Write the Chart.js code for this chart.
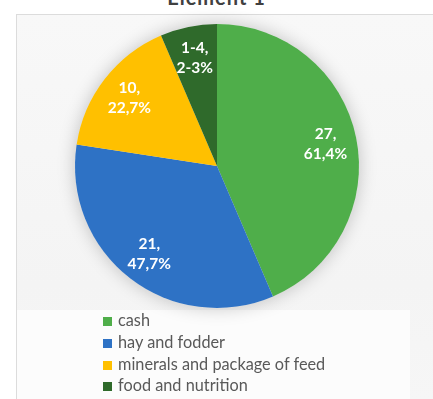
<!DOCTYPE html>
<html>
<head>
<meta charset="utf-8">
<script src="https://cdn.jsdelivr.net/npm/chart.js@4.4.1/dist/chart.umd.min.js"></script>
<style>
  html, body { margin: 0; padding: 0; background: #ffffff; }
  #wrap { position: relative; width: 433px; height: 399px; overflow: hidden; font-family: Lato, "Open Sans", sans-serif; }
  #panel { position: absolute; left: 16px; top: 14px; right: -2px; bottom: -2px;
           background: linear-gradient(180deg, #f8f8f8 0%, #f4f4f4 70%, #f6f6f6 100%);
           border-top: 1px solid #dcdcdc; border-left: 1px solid #dcdcdc; }
  #legendBox { position: absolute; left: 17px; top: 310px; width: 393px; bottom: 0; background: #fcfcfc; }
  #title { position: absolute; left: 0; width: 433px; top: -15px; text-align: center;
           font: bold 20px Lato, sans-serif; color: #404040; letter-spacing: 1px; }
  #chart { position: absolute; left: 0; top: 0; }
  #legend { position: absolute; left: 103px; top: 309px; margin: 0; padding: 0; list-style: none; }
  #legend li { height: 21.8px; line-height: 21.8px; font-size: 16.3px; color: #595959; white-space: nowrap; }
  #legend span { display: inline-block; width: 9px; height: 9px; margin-right: 6px; vertical-align: 0px; }
</style>
</head>
<body>
<div id="wrap">
  <div id="title">Element 1</div>
  <div id="panel"></div>
  <div id="legendBox"></div>
  <canvas id="chart" width="433" height="399"></canvas>
  <ul id="legend"></ul>
</div>
<script>
// Spending categories and number of answers
const categories = ['cash', 'hay and fodder', 'minerals and package of feed', 'food and nutrition'];
const counts = [27, 21, 10, 4];
const countLabels = ['27,', '21,', '10,', '1-4,'];
const shareLabels = ['61,4%', '47,7%', '22,7%', '2-3%'];
const sliceColors = ['#4fae4a', '#2e72c5', '#ffc000', '#2f6a2b'];

// soft shadow under the whole pie
const pieShadow = {
  id: 'pieShadow',
  beforeDatasetsDraw(chart) {
    const arc = chart.getDatasetMeta(0).data[0];
    if (!arc) return;
    const ctx = chart.ctx;
    ctx.save();
    ctx.shadowColor = 'rgba(0,0,0,0.22)';
    ctx.shadowBlur = 18;
    ctx.fillStyle = '#e8e8e8';
    ctx.beginPath();
    ctx.arc(arc.x, arc.y, arc.outerRadius, 0, Math.PI * 2);
    ctx.fill();
    ctx.restore();
  }
};

// two-line value labels inside each slice
const sliceLabels = {
  id: 'sliceLabels',
  afterDatasetsDraw(chart) {
    const ctx = chart.ctx;
    const meta = chart.getDatasetMeta(0);
    ctx.save();
    ctx.fillStyle = '#ffffff';
    ctx.font = 'bold 15.5px Lato, sans-serif';
    ctx.textAlign = 'center';
    ctx.textBaseline = 'middle';
    meta.data.forEach((arc, i) => {
      const p = arc.getProps(['x', 'y', 'startAngle', 'endAngle', 'outerRadius']);
      const mid = (p.startAngle + p.endAngle) / 2;
      const r = p.outerRadius * 0.78;
      const cx = p.x + Math.cos(mid) * r;
      const cy = p.y + Math.sin(mid) * r;
      ctx.fillText(countLabels[i], cx, cy - 10);
      ctx.fillText(shareLabels[i], cx, cy + 10);
    });
    ctx.restore();
  }
};

const chart = new Chart(document.getElementById('chart'), {
  type: 'pie',
  data: {
    labels: categories,
    datasets: [{
      data: counts,
      backgroundColor: sliceColors,
      borderWidth: 0
    }]
  },
  options: {
    responsive: false,
    animation: false,
    layout: { padding: { top: 24, bottom: 91, left: 1, right: 0 } },
    plugins: {
      legend: { display: false },
      tooltip: { enabled: false }
    }
  },
  plugins: [pieShadow, sliceLabels]
});

// vertical legend list built from the same arrays
const legend = document.getElementById('legend');
categories.forEach((name, i) => {
  const li = document.createElement('li');
  const sw = document.createElement('span');
  sw.style.background = sliceColors[i];
  li.appendChild(sw);
  li.appendChild(document.createTextNode(name));
  legend.appendChild(li);
});
</script>
</body>
</html>
